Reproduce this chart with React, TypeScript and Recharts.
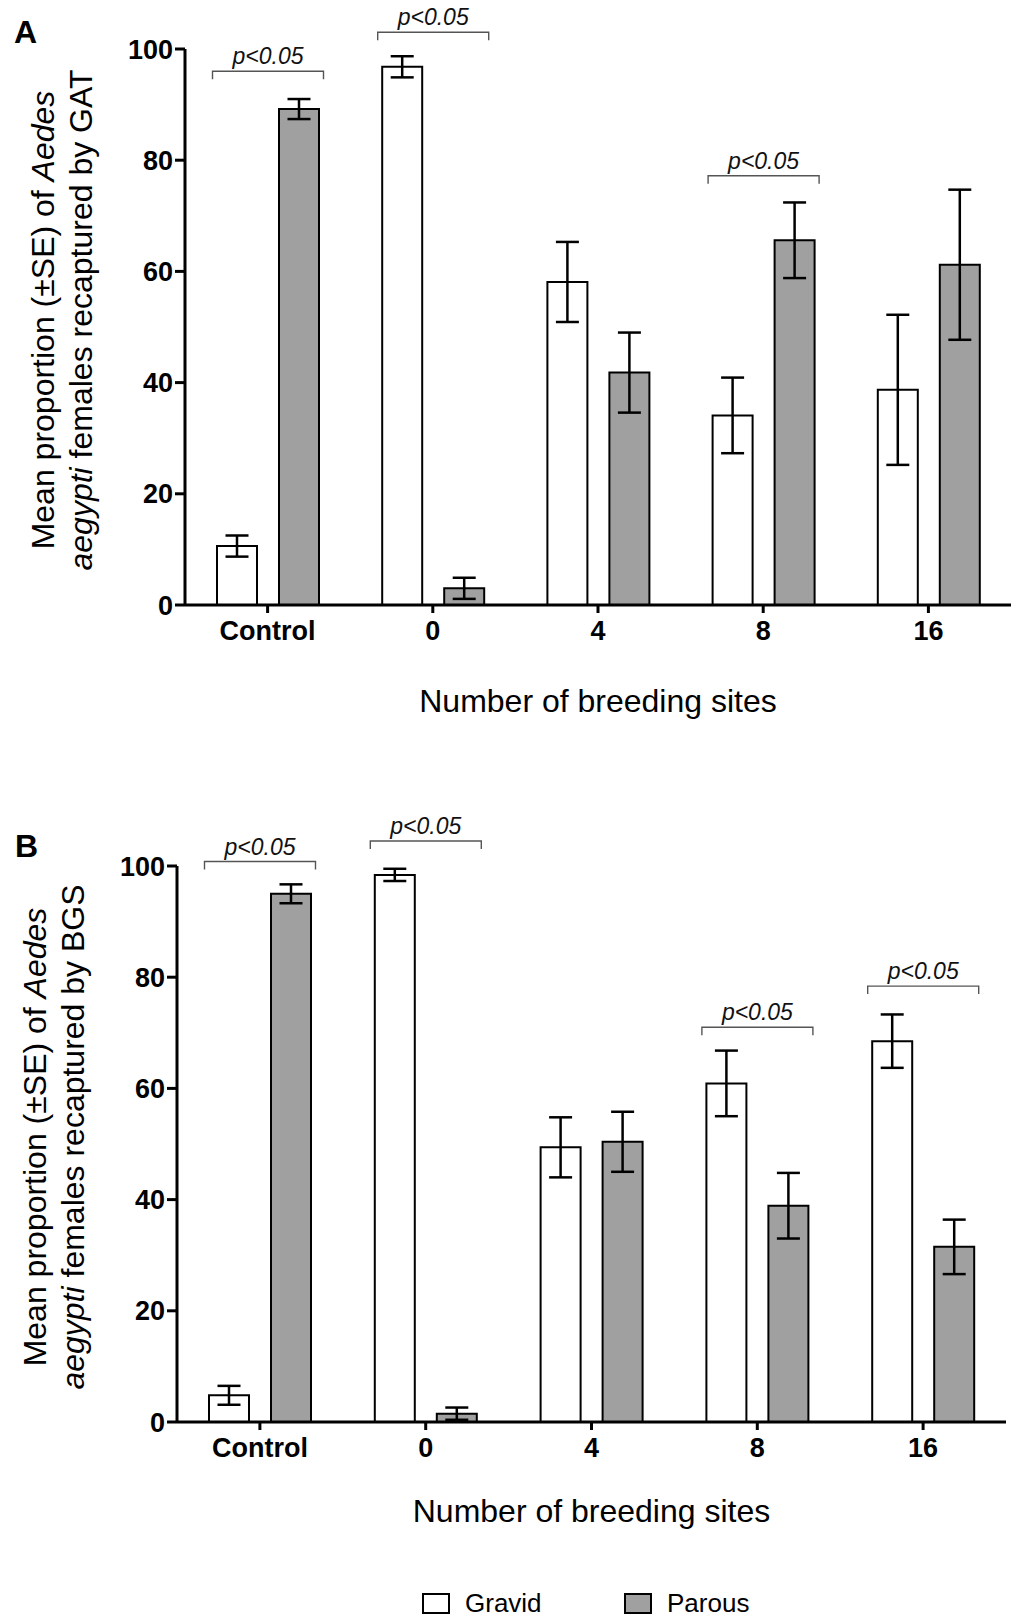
import React from "react";
import { BarChart, Bar, XAxis, YAxis, ErrorBar, LabelList, Legend } from "recharts";

const FONT = "'Liberation Sans', Arial, Helvetica, sans-serif";

const sites = ["Control", "0", "4", "8", "16"];
const yTicks = [0, 20, 40, 60, 80, 100];

// panel A - recaptured by GAT
const gatGravid = [10.6, 96.8, 58.1, 34.1, 38.7];
const gatGravidSe = [1.9, 1.9, 7.2, 6.8, 13.5];
const gatParous = [89.2, 3.0, 41.8, 65.6, 61.2];
const gatParousSe = [1.8, 1.9, 7.2, 6.8, 13.5];
const gatSig = [96, 103, null, 77.2, null];

// panel B - recaptured by BGS
const bgsGravid = [4.8, 98.4, 49.4, 60.9, 68.5];
const bgsGravidSe = [1.7, 1.1, 5.4, 5.9, 4.8];
const bgsParous = [95.0, 1.5, 50.4, 38.9, 31.5];
const bgsParousSe = [1.7, 1.1, 5.4, 5.9, 4.9];
const bgsSig = [100.8, 104.5, null, 71, 78.4];

const GRAVID_FILL = "#ffffff";
const PAROUS_FILL = "#a0a0a0";
const fillFor: Record<string, string> = { Gravid: GRAVID_FILL, Parous: PAROUS_FILL };

const BAR_SIZE = 40;
const BAR_GAP = 22;

function buildRows(g: number[], gSe: number[], p: number[], pSe: number[], sig: (number | null)[]) {
  return sites.map((site, i) => ({
    site,
    gravid: g[i],
    gravidSe: gSe[i],
    parous: p[i],
    parousSe: pSe[i],
    sig: sig[i],
  }));
}

const gatRows = buildRows(gatGravid, gatGravidSe, gatParous, gatParousSe, gatSig);
const bgsRows = buildRows(bgsGravid, bgsGravidSe, bgsParous, bgsParousSe, bgsSig);

// bracket over a gravid/parous pair, placed from the gravid bar's geometry
const makeBracket = (rows: any[]) => (p: any) => {
  const sig = p.value;
  if (sig == null || !p.viewBox) return null;
  const { x, y, width, height } = p.viewBox;
  const g = rows[p.index].gravid;
  const pxPerUnit = height / g;
  const by = y + height - sig * pxPerUnit;
  const mid = x + width + BAR_GAP / 2;
  const left = mid - 55.5;
  const right = mid + 55.5;
  return (
    <g>
      <path d={`M${left},${by + 8}V${by}H${right}V${by + 8}`} fill="none" stroke="#555" strokeWidth={1.4} />
      <text x={mid} y={by - 7} textAnchor="middle" fontStyle="italic" fontSize={23} fontFamily={FONT} fill="#111">
        p&lt;0.05
      </text>
    </g>
  );
};

const makeYTitle = (trap: string) => (p: any) => {
  const vb = p.viewBox;
  const cx = vb.x - 51;
  const cy = vb.y + vb.height / 2 - 7;
  return (
    <g transform={`translate(${cx},${cy}) rotate(-90)`} fontFamily={FONT} fontSize={32} fill="#000">
      <text x={0} y={0} textAnchor="middle">
        Mean proportion (±SE) of <tspan fontStyle="italic">Aedes</tspan>
      </text>
      <text x={0} y={38} textAnchor="middle">
        <tspan fontStyle="italic">aegypti</tspan> females recaptured by {trap}
      </text>
    </g>
  );
};

const LegendContent = (props: any) => (
  <svg width={1029} height={26} style={{ display: "block", overflow: "visible" }}>
    {(props.payload || []).map((entry: any, i: number) => {
      const x = 422 + i * 202;
      return (
        <g key={entry.value}>
          <rect x={x + 1} y={1} width={26} height={19} fill={fillFor[entry.value]} stroke="#000" strokeWidth={2} />
          <text x={x + 43} y={19} fontSize={26} fontFamily={FONT} fill="#000">
            {entry.value}
          </text>
        </g>
      );
    })}
  </svg>
);

const tickStyle = { fontSize: 27, fontWeight: 700, fill: "#000", fontFamily: FONT };
const axisStroke = { stroke: "#000", strokeWidth: 3 };

function Panel(props: {
  rows: any[];
  trap: string;
  height: number;
  margin: { top: number; right: number; left: number; bottom: number };
  xAxisHeight: number;
  titleOffset: number;
  legendTop?: number;
}) {
  const { rows, trap, height, margin, xAxisHeight, titleOffset, legendTop } = props;
  return (
    <BarChart width={1029} height={height} data={rows} margin={margin} barSize={BAR_SIZE} barGap={BAR_GAP}>
      <XAxis
        dataKey="site"
        height={xAxisHeight}
        interval={0}
        tickSize={8}
        tickMargin={8}
        axisLine={axisStroke}
        tickLine={axisStroke}
        tick={tickStyle}
        label={{
          value: "Number of breeding sites",
          position: "insideBottom",
          offset: titleOffset,
          fontSize: 32,
          fill: "#000",
          fontFamily: FONT,
        }}
      />
      <YAxis
        domain={[0, 100]}
        ticks={yTicks}
        interval={0}
        width={80}
        tickSize={10}
        tickMargin={2}
        axisLine={axisStroke}
        tickLine={axisStroke}
        tick={tickStyle}
        label={makeYTitle(trap)}
      />
      {legendTop !== undefined && (
        <Legend
          verticalAlign="middle"
          align="center"
          wrapperStyle={{ top: legendTop, left: 0, width: 1029, height: 26 }}
          content={LegendContent}
        />
      )}
      <Bar dataKey="gravid" name="Gravid" fill={GRAVID_FILL} stroke="#000" strokeWidth={2} isAnimationActive={false}>
        <ErrorBar dataKey="gravidSe" width={11.5} stroke="#000" strokeWidth={2.5} isAnimationActive={false} />
        <LabelList dataKey="sig" content={makeBracket(rows)} />
      </Bar>
      <Bar dataKey="parous" name="Parous" fill={PAROUS_FILL} stroke="#000" strokeWidth={2} isAnimationActive={false}>
        <ErrorBar dataKey="parousSe" width={11.5} stroke="#000" strokeWidth={2.5} isAnimationActive={false} />
      </Bar>
    </BarChart>
  );
}

export default function App() {
  return (
    <div
      style={{
        position: "absolute",
        left: 0,
        top: 0,
        width: 1029,
        height: 1619,
        background: "#fff",
        fontFamily: FONT,
        overflow: "hidden",
      }}
    >
      <div style={{ position: "absolute", left: 0, top: 0 }}>
        <Panel
          rows={gatRows}
          trap="GAT"
          height={780}
          margin={{ top: 49, right: 18, left: 105, bottom: 0 }}
          xAxisHeight={175}
          titleOffset={68}
        />
      </div>
      <div style={{ position: "absolute", left: 0, top: 787 }}>
        <Panel
          rows={bgsRows}
          trap="BGS"
          height={832}
          margin={{ top: 79, right: 23, left: 97, bottom: 0 }}
          xAxisHeight={197}
          titleOffset={97}
          legendTop={806}
        />
      </div>
      <svg width={1029} height={1619} style={{ position: "absolute", left: 0, top: 0, pointerEvents: "none" }}>
        <text x={14} y={43} fontSize={32} fontWeight={700} fontFamily={FONT} fill="#000">
          A
        </text>
        <text x={15} y={857} fontSize={32} fontWeight={700} fontFamily={FONT} fill="#000">
          B
        </text>
      </svg>
    </div>
  );
}
